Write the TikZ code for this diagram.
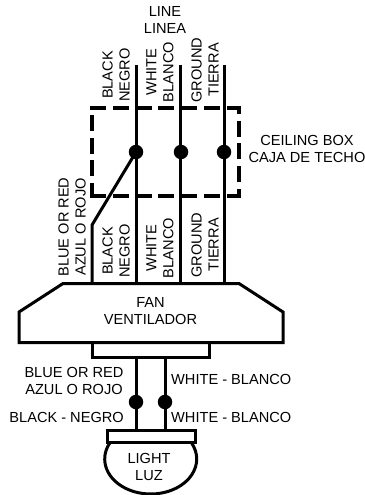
\documentclass[tikz,border=0pt]{standalone}
\usepackage{fontspec}
\setmainfont{Liberation Sans}
\tikzset{
  wire/.style={line width=3pt,line cap=butt,line join=miter},
  boxline/.style={line width=3pt,line join=miter},
  dashbox/.style={line width=3.4pt,dash pattern=on 16pt off 6.7pt},
  dot/.style={circle,fill=black,minimum size=14.5pt,inner sep=0pt},
  lbl/.style={font=\fontsize{14.6pt}{17pt}\selectfont,align=center,inner sep=0pt,text=black},
  vlbl/.style={lbl,rotate=90},
}
\begin{document}
\begin{tikzpicture}[x=1pt,y=-1pt]
\useasboundingbox (0,0) rectangle (364,495);
% ceiling box
\draw[dashbox] (90.3,108) -- (240.7,108);
\draw[dashbox] (90.3,196) -- (240.7,196);
\draw[dashbox,dash phase=3pt] (92,196) -- (92,108);
\draw[dashbox,dash phase=10pt] (239,108) -- (239,196);
% fan
\node[lbl] (fan) at (150.5,311) {FAN\\VENTILADOR};
\draw[boxline] (63,283.5) -- (239,283.5) -- (283,312) -- (283,342.5) -- (19,342.5) -- (19,312) -- cycle;
\draw[boxline] (92,342.5) rectangle (209,357);
% junctions
\node[dot] (jb) at (136,152) {};
\node[dot] (jw) at (181,152) {};
\node[dot] (jg) at (224,152) {};
\node[dot] (lb) at (136,402) {};
\node[dot] (lw) at (165,402) {};
% wire ends
\coordinate (tb) at (136,65);
\coordinate (tw) at (180,65);
\coordinate (tg) at (224,65);
\coordinate (fb) at (136,283);
\coordinate (fw) at (180,283);
\coordinate (fg) at (224,283);
\coordinate (fr) at (92,283);
\coordinate (fr2) at (92,225);
\coordinate (bb) at (136,357);
\coordinate (bw) at (165,357);
\coordinate (cb) at (136,430);
\coordinate (cw) at (165,430);
\draw[wire] (tb) -- (fb);
\draw[wire] (tw) -- (fw);
\draw[wire] (tg) -- (fg);
\draw[wire] (jb.center) -- (fr2) -- (fr);
\draw[wire] (bb) -- (cb);
\draw[wire] (bw) -- (cw);
% light
\draw[boxline] (107,430) rectangle (195,442);
\draw[boxline] (109.8,443) arc[start angle=152.8,delta angle=234.4,x radius=46pt,y radius=35pt];
\node[lbl] (light) at (149,466.5) {LIGHT\\LUZ};
% labels
\node[lbl] (line) at (165,19.5) {LINE\\LINEA};
\node[lbl] (ceil) at (307,148.5) {CEILING BOX\\CAJA DE TECHO};
\node[vlbl] at (116,75) {BLACK\\NEGRO};
\node[vlbl] at (160,72) {WHITE\\BLANCO};
\node[vlbl] at (205,70) {GROUND\\TIERRA};
\node[vlbl] at (72,227) {BLUE OR RED\\AZUL O ROJO};
\node[vlbl] at (116,251) {BLACK\\NEGRO};
\node[vlbl] at (160,248) {WHITE\\BLANCO};
\node[vlbl] at (205,245) {GROUND\\TIERRA};
\node[lbl] at (74,380.5) {BLUE OR RED\\AZUL O ROJO};
\node[lbl,anchor=west] at (171,379) {WHITE - BLANCO};
\node[lbl,anchor=west] at (171,417) {WHITE - BLANCO};
\node[lbl,anchor=east] at (124,417) {BLACK - NEGRO};
\end{tikzpicture}
\end{document}
